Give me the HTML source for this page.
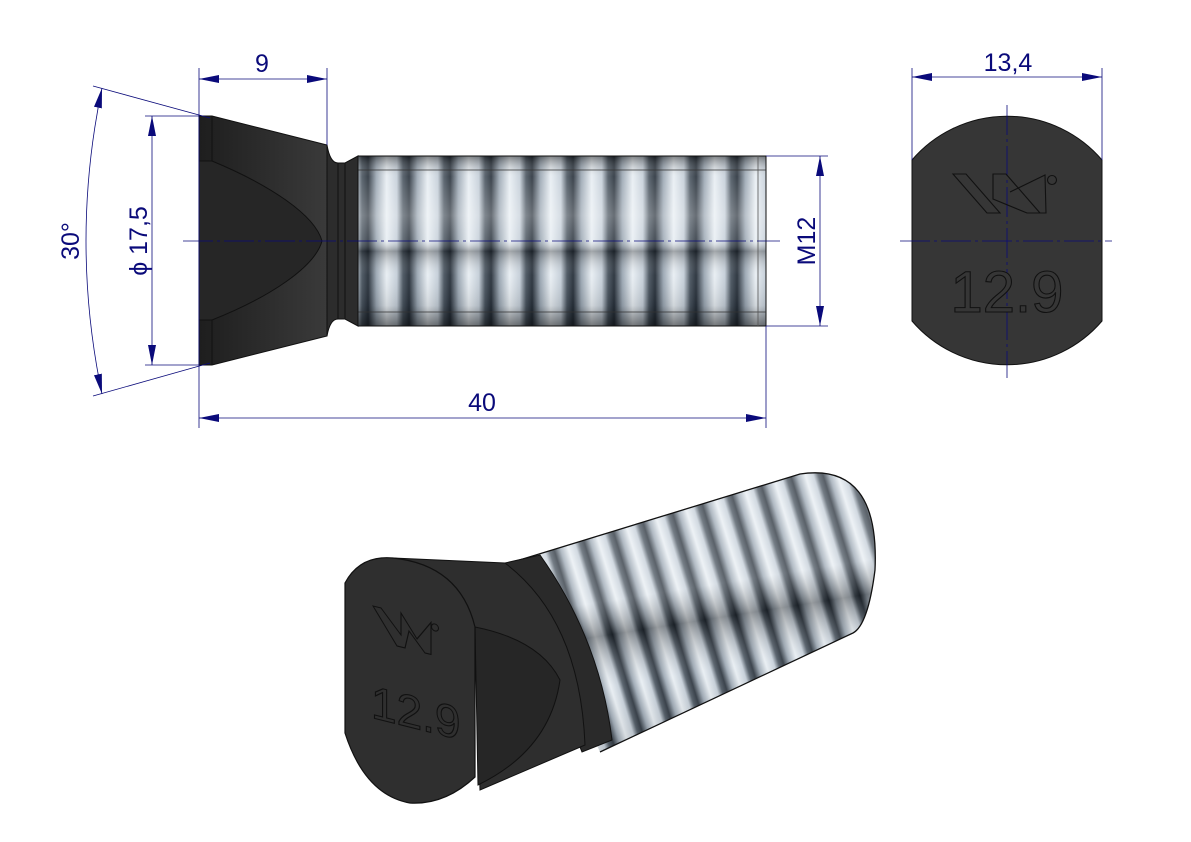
<!DOCTYPE html>
<html><head><meta charset="utf-8"><style>
html,body{margin:0;padding:0;background:#fff;}
svg{display:block;}
text{font-family:"Liberation Sans",sans-serif;}
</style></head><body>
<svg width="1191" height="842" viewBox="0 0 1191 842" xmlns="http://www.w3.org/2000/svg">
<defs>
<marker id="ar" viewBox="0 0 20 8" refX="20" refY="4" markerWidth="20" markerHeight="8" orient="auto-start-reverse" markerUnits="userSpaceOnUse"><path d="M0,0 L20,4 L0,8 Z" fill="#0a0a7a"/></marker>
<linearGradient id="hd" x1="0" y1="0" x2="1" y2="0"><stop offset="0" stop-color="#1e1e1e"/><stop offset="1" stop-color="#3a3a3a"/></linearGradient>
<linearGradient id="sg" x1="0" y1="0" x2="1" y2="0">
<stop offset="0" stop-color="#4a5560"/>
<stop offset="0.15" stop-color="#27303a"/>
<stop offset="0.35" stop-color="#9aa6b2"/>
<stop offset="0.6" stop-color="#e8eef3"/>
<stop offset="0.85" stop-color="#c4ced8"/>
<stop offset="1" stop-color="#4a5560"/>
</linearGradient>
<pattern id="th" x="362" y="0" width="41" height="400" patternUnits="userSpaceOnUse">
<rect width="41" height="400" fill="url(#sg)"/>
</pattern>
<linearGradient id="tv" x1="0" y1="0" x2="0" y2="1">
<stop offset="0" stop-color="#000" stop-opacity="0.45"/>
<stop offset="0.12" stop-color="#fff" stop-opacity="0.1"/>
<stop offset="0.35" stop-color="#fff" stop-opacity="0.3"/>
<stop offset="0.5" stop-color="#fff" stop-opacity="0.15"/>
<stop offset="0.56" stop-color="#000" stop-opacity="0.3"/>
<stop offset="0.7" stop-color="#fff" stop-opacity="0.05"/>
<stop offset="0.88" stop-color="#000" stop-opacity="0.1"/>
<stop offset="1" stop-color="#000" stop-opacity="0.5"/>
</linearGradient>
<pattern id="th2" width="31" height="600" patternUnits="userSpaceOnUse" patternTransform="translate(520,560) rotate(-17)">
<rect width="31" height="600" fill="url(#sg)"/>
</pattern>
<linearGradient id="tv2" x1="0.4" y1="0" x2="0.6" y2="1">
<stop offset="0" stop-color="#fff" stop-opacity="0.2"/>
<stop offset="0.45" stop-color="#fff" stop-opacity="0.25"/>
<stop offset="0.55" stop-color="#000" stop-opacity="0.35"/>
<stop offset="0.7" stop-color="#fff" stop-opacity="0.1"/>
<stop offset="1" stop-color="#000" stop-opacity="0.2"/>
</linearGradient>
<clipPath id="cl2"><path d="M513,562 L800,474 Q880,462 875,570 Q868,625 853,633 L600,752 Z"/></clipPath>
</defs>

<!-- SIDE VIEW -->
<rect x="358" y="156" width="408" height="170" fill="url(#th)"/>
<rect x="358" y="156" width="408" height="170" fill="url(#tv)"/>
<rect x="358" y="156" width="408" height="170" fill="none" stroke="#111" stroke-width="1"/>
<line x1="358" y1="170" x2="766" y2="170" stroke="#333" stroke-width="0.8"/>
<line x1="358" y1="312" x2="766" y2="312" stroke="#333" stroke-width="0.8"/>
<line x1="758" y1="156" x2="758" y2="326" stroke="#555" stroke-width="0.8"/>
<path d="M327,145 Q330,163 338,163 L345,163 L358,156 L358,326 L345,319 L338,319 Q330,319 327,336 Z" fill="#2c2c2c" stroke="#111"/>
<line x1="338" y1="163" x2="338" y2="319" stroke="#111"/>
<line x1="345" y1="163" x2="345" y2="319" stroke="#111"/>
<path d="M199,116 L212,116 L327,145 L327,336 L212,365 L199,365 Z" fill="url(#hd)" stroke="#111"/>
<path d="M199,161 L212,161 C270,185 315,215 322,241 C315,267 270,297 212,320 L199,320 Z" fill="#262626"/>
<path d="M212,161 C270,185 315,215 322,241 C315,267 270,297 212,320" fill="none" stroke="#111"/>
<line x1="212" y1="116" x2="212" y2="161" stroke="#111"/>
<line x1="212" y1="320" x2="212" y2="365" stroke="#111"/>
<line x1="199" y1="161" x2="212" y2="161" stroke="#111"/>
<line x1="199" y1="320" x2="212" y2="320" stroke="#111"/>
<line x1="183" y1="241" x2="780" y2="241" stroke="#0a0a7a" stroke-width="0.8" stroke-dasharray="30,4,3,4"/>

<g stroke="#0a0a7a" stroke-width="0.8" fill="none">
<line x1="199" y1="68" x2="199" y2="428"/>
<line x1="327" y1="68" x2="327" y2="145"/>
<line x1="199" y1="79" x2="327" y2="79" marker-start="url(#ar)" marker-end="url(#ar)"/>
<line x1="145" y1="116" x2="199" y2="116"/>
<line x1="145" y1="365" x2="199" y2="365"/>
<line x1="152" y1="116" x2="152" y2="365" marker-start="url(#ar)" marker-end="url(#ar)"/>
<line x1="93" y1="86" x2="210" y2="118"/>
<line x1="93" y1="396" x2="210" y2="363"/>
<path d="M102,88 Q70,241 102,394" marker-start="url(#ar)" marker-end="url(#ar)"/>
<line x1="766" y1="326" x2="766" y2="428"/>
<line x1="766" y1="156" x2="828" y2="156"/>
<line x1="766" y1="326" x2="828" y2="326"/>
<line x1="820" y1="156" x2="820" y2="326" marker-start="url(#ar)" marker-end="url(#ar)"/>
<line x1="199" y1="418" x2="766" y2="418" marker-start="url(#ar)" marker-end="url(#ar)"/>
</g>
<g fill="#0a0a7a" font-size="25">
<text x="262" y="72" text-anchor="middle">9</text>
<text x="482" y="411" text-anchor="middle">40</text>
<text transform="translate(147,241) rotate(-90)" text-anchor="middle">ϕ 17,5</text>
<text transform="translate(79,241) rotate(-90)" text-anchor="middle">30°</text>
<text transform="translate(815,241) rotate(-90)" text-anchor="middle">M12</text>
<text x="1008" y="71" text-anchor="middle">13,4</text>
</g>

<!-- END VIEW -->
<path d="M912,160 A125,125 0 0 1 1102,160 L1102,321 A125,125 0 0 1 912,321 Z" fill="#363636" stroke="#111"/>
<g stroke="#0a0a7a" stroke-width="0.8" fill="none">
<line x1="912" y1="68" x2="912" y2="160"/>
<line x1="1102" y1="68" x2="1102" y2="160"/>
<line x1="912" y1="77" x2="1102" y2="77" marker-start="url(#ar)" marker-end="url(#ar)"/>
<line x1="1007" y1="105" x2="1007" y2="378" stroke-dasharray="30,4,3,4"/>
<line x1="900" y1="241" x2="1112" y2="241" stroke-dasharray="30,4,3,4"/>
</g>
<g fill="none" stroke="#111" stroke-width="1.1">
<path d="M953,174 L966,174 L1000,213 L987,213 Z"/>
<path d="M993,199 L993,174 L1006,174 L1040,213 L1027,213 Z"/>
<path d="M1010,192 L1045,175 L1046,213 L1027,213"/>
<circle cx="1052" cy="180" r="4.5"/>
</g>
<text x="1007" y="312" text-anchor="middle" font-size="58" fill="#363636" stroke="#111" stroke-width="1.1">12.9</text>

<!-- ISO VIEW -->
<rect x="480" y="440" width="420" height="330" fill="url(#th2)" clip-path="url(#cl2)"/>
<rect x="480" y="440" width="420" height="330" fill="url(#tv2)" clip-path="url(#cl2)"/>
<path d="M513,562 L800,474 Q880,462 875,570 Q868,625 853,633 L600,752" fill="none" stroke="#111" stroke-width="1.3"/>
<!-- collar -->
<path d="M505,563 L540,555 Q600,640 612,740 L582,752 Z" fill="#2a2a2a" stroke="#111"/>
<!-- cone -->
<path d="M393,558 L505,563 Q580,620 585,745 L480,790 L475,640 Z" fill="#2e2e2e" stroke="#111"/>
<path d="M475,627 Q540,640 560,680 Q550,750 478,785 Z" fill="#262626" stroke="#111"/>
<!-- front face -->
<path d="M345,583 Q360,555 393,558 Q460,565 475,627 L475,777 Q445,805 410,803 Q365,795 345,733 Z" fill="#2f2f2f" stroke="#111" stroke-width="1.2"/>
<g transform="translate(373,606) skewY(14)">
<path d="M0,0 L8,0 L28,22 L28,0 L44,22 L58,2 L58,34 L52,34 L36,16 L32,34 L24,34 Z" fill="none" stroke="#111" stroke-width="1.1"/>
<circle cx="62" cy="6" r="3.5" fill="none" stroke="#111"/>
<text x="-2" y="112" font-size="46" fill="#2f2f2f" stroke="#111" stroke-width="1.1">12.9</text>
</g>
</svg>
</body></html>
